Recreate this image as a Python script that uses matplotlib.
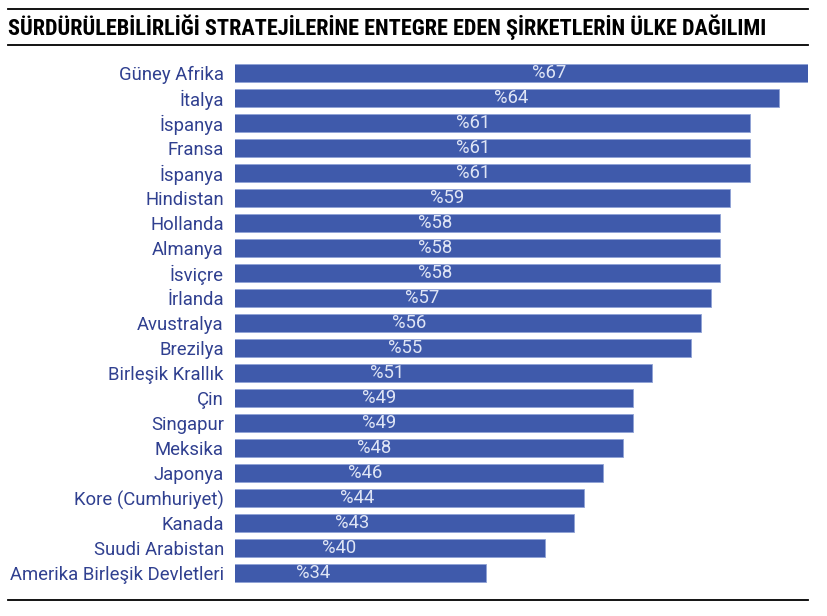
import matplotlib.pyplot as plt
from matplotlib import font_manager
from matplotlib.lines import Line2D

countries = ['Güney Afrika', 'İtalya', 'İspanya', 'Fransa', 'İspanya', 'Hindistan',
             'Hollanda', 'Almanya', 'İsviçre', 'İrlanda', 'Avustralya', 'Brezilya',
             'Birleşik Krallık', 'Çin', 'Singapur', 'Meksika', 'Japonya',
             'Kore (Cumhuriyet)', 'Kanada', 'Suudi Arabistan', 'Amerika Birleşik Devletleri']
values = [67, 64, 61, 61, 61, 59, 58, 58, 58, 57, 56, 55, 51, 49, 49, 48, 46, 44, 43, 40, 34]

title = 'SÜRDÜRÜLEBİLİRLİĞİ STRATEJİLERİNE ENTEGRE EDEN ŞİRKETLERİN ÜLKE DAĞILIMI'

bar_color = '#3f5aab'
label_color = '#304090'
text_font = ['Roboto', 'DejaVu Sans']

# narrowest bold family we can find for the title
installed = {f.name for f in font_manager.fontManager.ttflist}
title_font = 'DejaVu Sans'
for name in ['Roboto Condensed', 'Open Sans Condensed', 'Liberation Sans Narrow', 'DejaVu Sans Condensed']:
    if name in installed:
        title_font = name
        break

W, H = 828, 616
fig = plt.figure(figsize=(W / 100, H / 100), dpi=100)

# axes placed in pixel terms: bars start at x=235, the 67 bar ends at x=808
left, right = 235, 808
top, bottom = 60.5, 585.5
ax = fig.add_axes([left / W, 1 - bottom / H, (right - left) / W, (bottom - top) / H])

y = list(range(len(values)))
ax.barh(y, values, height=0.74, color=bar_color, edgecolor='#8fa2d6', linewidth=0.6)
ax.set_xlim(8.2, 67)
ax.set_ylim(len(values) - 0.5, -0.5)
ax.set_yticks(y)
ax.set_yticklabels(countries, fontsize=13.3, color=label_color, family=text_font)
ax.tick_params(axis='y', length=0, pad=8)
ax.set_xticks([])
for s in ax.spines.values():
    s.set_visible(False)

# value labels sit inside the bar, further right for longer bars
for i, v in enumerate(values):
    xpos = 16.2 + 0.45 * (v - 34) + 0.85 * max(0, v - 56)
    ax.text(xpos, i, '%' + str(v), ha='center', va='center', fontsize=13.3,
            color='#dfe5f5', family=text_font)

# title and rules
for yy in (9, 45, 600):
    fig.add_artist(Line2D([8 / W, 808 / W], [1 - yy / H, 1 - yy / H], color='black', lw=1.3))
t = fig.text(8 / W, 1 - 27.5 / H, title, ha='left', va='center', fontsize=14,
             fontweight='heavy', fontstretch='condensed', family=[title_font, 'DejaVu Sans'])
# fit the title to the width it takes in the reference
r = fig.canvas.get_renderer()
w = t.get_window_extent(renderer=r).width
t.set_fontsize(14 * 762 / w)

fig.savefig('out.png', dpi=100)
